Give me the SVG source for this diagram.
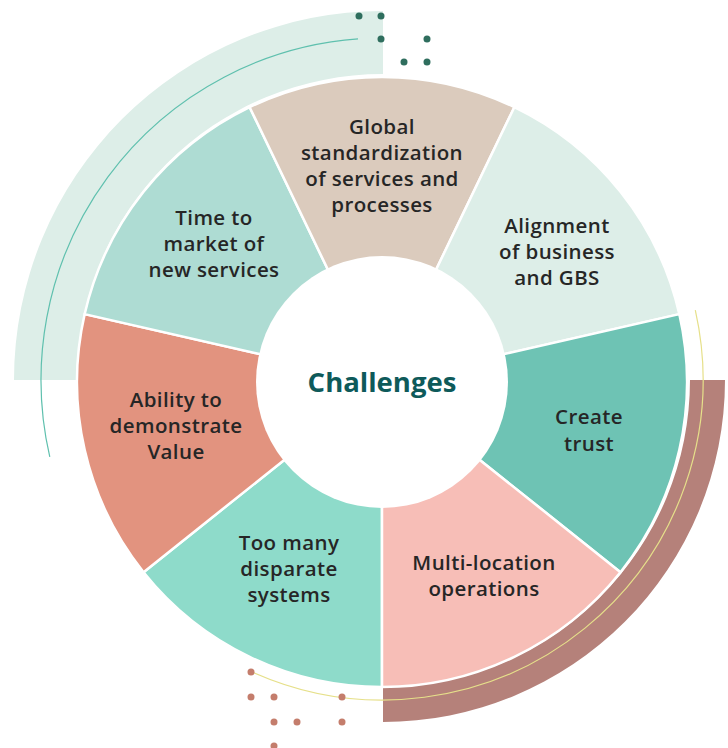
<svg xmlns="http://www.w3.org/2000/svg" width="728" height="748" viewBox="0 0 728 748">
<style>
.seg{stroke:#ffffff;stroke-width:2.5;stroke-linejoin:round}
.lbl{font-family:"Open Sans","Noto Sans","Liberation Sans",sans-serif;font-weight:600;font-size:20.5px;letter-spacing:0.4px;fill:#262626;text-anchor:middle}
.title{font-family:"Open Sans","Noto Sans","Liberation Sans",sans-serif;font-weight:700;font-size:27.5px;fill:#0e5a5a;text-anchor:middle}
.gd{fill:#2f6e5e}
.bd{fill:#c47d6c}
</style>
<rect width="728" height="748" fill="#ffffff"/>
<g id="decor">
<path d="M14,380 A369,369 0 0 1 383,11 L383,74 A306,306 0 0 0 77,380 Z" fill="#ddeee8"/>
<path d="M690,380 L725,380 A342,342 0 0 1 383,722 L383,687 A307,307 0 0 0 690,380 Z" fill="#b5817a"/>
<path d="M49.8,456.9 A342,342 0 0 1 358,38.9" fill="none" stroke="#5fc0ae" stroke-width="1.2"/>
<path d="M695.3,310.2 A320,320 0 0 1 251.3,671.6" fill="none" stroke="#e6e08a" stroke-width="1.2"/>
<circle class="gd" cx="359" cy="16" r="3.5"/><circle class="gd" cx="381" cy="16" r="3.5"/>
<circle class="gd" cx="381" cy="39" r="3.5"/><circle class="gd" cx="427" cy="39" r="3.5"/>
<circle class="gd" cx="404" cy="62" r="3.5"/><circle class="gd" cx="427" cy="62" r="3.5"/>
<circle class="bd" cx="251" cy="672" r="3.5"/><circle class="bd" cx="251" cy="697" r="3.5"/>
<circle class="bd" cx="274" cy="697" r="3.5"/><circle class="bd" cx="342" cy="697" r="3.5"/>
<circle class="bd" cx="274" cy="722" r="3.5"/><circle class="bd" cx="297" cy="722" r="3.5"/>
<circle class="bd" cx="342" cy="722" r="3.5"/><circle class="bd" cx="274" cy="746" r="3.5"/>
</g>
<g id="seg-toomany">
<path class="seg" d="M382,382 L382,687 A305,305 0 0 1 143.54,572.16 Z" fill="#8edbca"/>
<text class="lbl" x="289" y="550">Too many</text><text class="lbl" x="289" y="576">disparate</text><text class="lbl" x="289" y="602">systems</text>
</g>
<g id="seg-ability">
<path class="seg" d="M382,382 L143.54,572.16 A305,305 0 0 1 84.65,314.13 Z" fill="#e2937f"/>
<text class="lbl" x="176" y="407">Ability to</text><text class="lbl" x="176" y="433">demonstrate</text><text class="lbl" x="176" y="459">Value</text>
</g>
<g id="seg-time">
<path class="seg" d="M382,382 L84.65,314.13 A305,305 0 0 1 249.67,107.2 Z" fill="#aedcd3"/>
<text class="lbl" x="214" y="225">Time to</text><text class="lbl" x="214" y="251">market of</text><text class="lbl" x="214" y="277">new services</text>
</g>
<g id="seg-global">
<path class="seg" d="M382,382 L249.67,107.2 A305,305 0 0 1 514.33,107.2 Z" fill="#dbcbbd"/>
<text class="lbl" x="382" y="134">Global</text><text class="lbl" x="382" y="160">standardization</text><text class="lbl" x="382" y="186">of services and</text><text class="lbl" x="382" y="212">processes</text>
</g>
<g id="seg-alignment">
<path class="seg" d="M382,382 L514.33,107.2 A305,305 0 0 1 679.35,314.13 Z" fill="#ddeee8"/>
<text class="lbl" x="557" y="233">Alignment</text><text class="lbl" x="557" y="259">of business</text><text class="lbl" x="557" y="285">and GBS</text>
</g>
<g id="seg-trust">
<path class="seg" d="M382,382 L679.35,314.13 A305,305 0 0 1 620.46,572.16 Z" fill="#6ec3b4"/>
<text class="lbl" x="589" y="424">Create</text><text class="lbl" x="589" y="451">trust</text>
</g>
<g id="seg-multi">
<path class="seg" d="M382,382 L620.46,572.16 A305,305 0 0 1 382,687 Z" fill="#f7beb7"/>
<text class="lbl" x="484" y="570">Multi-location</text><text class="lbl" x="484" y="596">operations</text>
</g>
<g id="center">
<circle cx="382" cy="382" r="126" fill="#ffffff"/>
<text class="title" x="382" y="392">Challenges</text>
</g>
</svg>
